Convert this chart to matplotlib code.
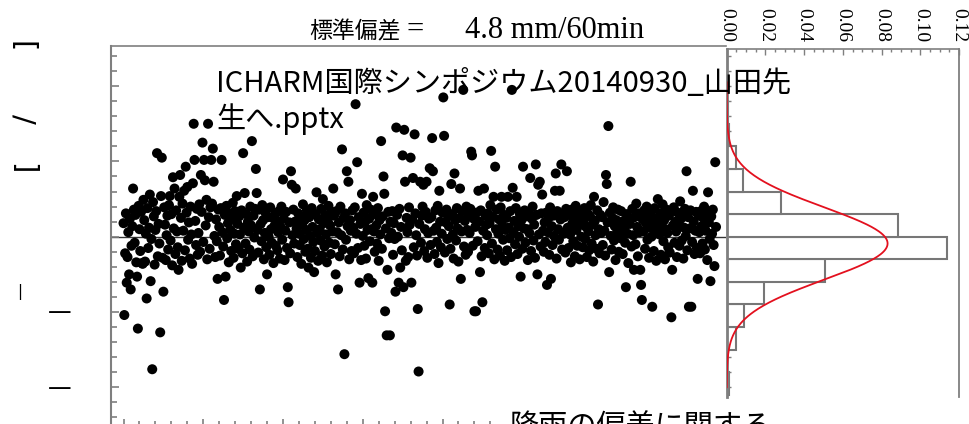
import numpy as np
import matplotlib
matplotlib.use("Agg")
import matplotlib.pyplot as plt
from matplotlib.ticker import MultipleLocator, FormatStrFormatter

# hourly rainfall deviation [mm/60min], one row of 24 values per day (31 days)
deviation_by_day = [
    [1.8, -10.4, -2.2, 3.1, -6.1, -2.7, 0.6, -5.0, 2.4, -7.0, -1.2, 1.4, 6.4, 3.6, -0.8, 2.9, -3.4, -5.3, -12.2, 4.1, 1.0, -1.9, 3.3, -3.5],
    [-3.6, 4.9, 2.2, -3.3, 0.4, -8.2, 3.8, -1.5, 1.2, 5.6, -5.9, -0.3, -17.6, 4.6, 2.7, -3.7, 0.9, 3.4, 11.1, -2.6, 1.7, -0.9, -12.7, 5.4],
    [10.5, -2.8, -7.3, 3.9, 1.6, -3.1, 0.2, 2.8, -1.7, 4.2, 5.4, -0.5, 3.0, -3.8, 7.9, 1.1, 6.4, -2.3, 3.5, 0.7, -1.4, -4.4, 5.3, 8.2],
    [2.5, -3.2, 4.4, 0.8, 6.1, -1.8, 9.3, 3.2, 6.6, -0.4, 1.9, -2.9, 4.0, 0.3, -3.6, 7.1, 15.0, 10.2, 2.1, -1.1, 3.7, -2.4, 0.5, 4.3],
    [-2.0, 8.2, 3.3, 12.5, -0.7, 10.2, 7.5, 1.5, 4.9, -3.0, 15.0, 2.6, -1.6, 3.9, 10.2, 4.4, 11.7, 7.3, 0.1, -2.7, 2.3, -0.6, -5.6, 3.6],
    [1.3, -2.5, 3.8, 10.2, 0.6, -1.3, -8.4, 2.9, -5.3, 4.1, -0.2, 1.8, -3.4, 3.1, 0.9, -1.9, 2.4, 4.5, -2.8, 0.4, 3.4, -1.0, 5.4, 1.7],
    [-1.6, 2.7, 0.3, -4.1, 3.5, -2.2, 11.1, 1.2, 5.8, -0.9, 3.0, -3.3, 2.0, 0.7, -1.7, 4.0, 1.5, 12.7, -2.6, 2.8, -0.1, 3.7, 9.0, 5.8],
    [0.9, -2.1, 3.6, -7.0, 1.7, -0.6, 4.2, 2.2, -3.0, 0.5, 3.2, -1.4, -5.0, 2.6, 0.0, -2.4, 3.9, 1.0, -0.8, 2.5, -3.5, 1.4, 3.0, -1.2],
    [2.1, -1.8, 0.6, 3.4, -2.9, 1.3, 4.0, -0.4, 7.6, 2.4, -3.1, 0.8, 3.3, -1.5, -6.7, -8.7, 1.9, -2.2, 8.7, 6.9, 0.2, 3.6, -0.9, 2.0],
    [6.4, 1.1, -2.7, 3.1, 0.4, -1.1, 2.7, -3.6, 1.6, 4.3, -0.3, 2.2, -2.0, 0.9, 3.5, -1.6, -4.1, 2.6, 0.1, -2.8, 3.8, 1.3, -0.7, -4.7],
    [-1.9, 3.0, 5.9, 0.5, -3.2, 2.3, 1.0, -0.5, 3.7, -2.5, 5.0, 1.8, -1.3, 2.9, 0.3, -3.4, 2.1, 4.1, -0.8, 1.5, -2.3, 3.3, 0.7, 6.4],
    [2.8, -1.0, -5.0, 3.4, 0.6, -7.0, 1.9, -2.6, 4.0, 0.2, 11.6, -1.7, 2.5, -15.6, 3.1, -0.4, 8.7, 1.4, 7.3, -3.0, 2.2, 0.8, -1.9, 3.5],
    [1.2, -2.2, 3.9, 17.6, 0.4, 9.9, -1.5, 2.6, -6.1, 1.7, -3.1, 5.7, 0.1, 3.2, -1.2, 2.0, -2.9, 4.2, 0.9, -5.5, 2.4, -0.6, 3.6, 1.0],
    [-6.1, 5.3, 0.7, -2.0, 3.0, 1.5, -0.9, 3.8, -3.2, 2.2, 0.3, 12.7, -1.6, 2.7, 8.0, 5.7, -9.9, 1.1, -13.1, -4.4, 3.3, -0.2, -13.1, 2.0],
    [0.5, 3.4, -2.4, 1.8, -0.3, -7.3, 14.5, 2.9, 0.0, -6.1, 3.7, -4.1, 1.3, -1.8, 10.8, -6.7, 14.2, 7.3, -3.2, 2.5, 0.6, -2.7, 3.9, 1.6],
    [10.5, -6.1, 2.3, 7.8, -1.4, 13.6, 3.1, 0.2, -2.5, -9.6, -17.9, 1.7, 7.3, -0.8, 2.8, 4.0, 6.9, -1.9, 1.0, 3.3, 7.3, -2.8, 0.5, 2.4],
    [9.1, -1.1, 2.6, 13.1, 8.7, 0.8, -2.3, 3.5, 1.2, -0.7, 4.1, -3.5, 6.1, 2.0, -1.4, 0.4, 3.2, 18.5, 13.4, -2.1, 1.9, 3.6, -0.3, 2.7],
    [1.4, -9.0, -1.6, 7.0, 3.0, 0.3, -2.9, 8.4, 2.2, -0.5, 3.8, 1.1, -3.3, 2.5, 6.4, -5.6, 0.7, 3.4, 19.5, -1.3, 2.1, -2.4, 4.0, 0.9],
    [-2.0, 2.9, 0.5, 3.7, 11.3, 10.8, -1.2, 2.4, -9.9, 1.3, -9.9, 3.2, -0.6, 6.1, 2.0, -4.7, 3.5, -2.6, -8.7, 0.8, 6.4, -1.5, 2.8, 1.6],
    [0.2, 3.1, -2.2, 1.8, 4.2, 11.4, -0.9, 2.6, 5.3, -3.0, 9.3, 1.0, 3.6, -1.7, 0.4, 2.3, -2.5, 3.9, 5.3, 1.5, -0.4, 2.9, -3.2, 0.9],
    [2.5, -1.8, 5.3, 1.2, -0.2, 3.4, -2.7, 19.5, 6.5, 0.6, 2.1, -1.0, 3.8, 5.3, -2.3, 1.4, 0.0, 3.0, -5.3, 2.2, -1.6, 9.3, 1.1, 3.5],
    [-0.8, 2.7, 1.0, -3.1, 3.3, 0.5, 7.8, -1.9, 2.4, 4.0, -0.5, 1.6, -2.8, 9.6, 2.9, -5.0, 6.9, 0.3, 7.3, -1.3, 3.1, 5.6, 0.8, -2.0],
    [1.9, -0.7, 3.2, -6.4, 0.6, 2.5, -2.4, 3.9, -5.6, 1.4, -1.1, 2.8, 0.1, 6.1, 8.4, -2.9, 3.4, 1.0, -0.4, 6.1, 2.3, 9.6, -1.7, 3.0],
    [0.4, 2.6, -2.1, 3.7, 8.7, 1.2, -1.5, 2.9, 0.3, -3.4, 3.6, 1.8, -0.6, 2.2, -2.6, 4.1, 0.9, -1.2, 3.0, 1.5, -3.0, 2.4, 0.0, 3.3],
    [-1.4, 2.0, 3.8, -0.3, 1.3, -2.7, 3.1, 0.7, -1.8, 2.7, 4.2, -0.9, 1.6, -3.3, 5.3, 2.1, 0.2, -1.6, 3.5, -9.0, 1.0, -2.2, 2.9, 0.5],
    [2.6, -1.1, 4.6, 0.8, -2.5, 8.2, 7.0, 1.9, 14.7, -4.7, 3.2, 0.1, -1.7, 2.5, 3.9, -0.5, 1.4, -3.1, 2.2, 0.6, 3.6, -2.0, 1.2, -0.2],
    [3.4, 0.9, -2.3, 2.1, 1.1, -0.8, -6.7, 3.0, 0.4, -3.5, 2.4, 1.7, 7.3, -1.3, 3.7, 0.2, -4.4, 2.6, -1.0, 4.4, 1.3, -2.6, 3.1, 0.6],
    [-4.4, -6.4, -8.4, 2.3, 0.7, 3.5, -1.6, 1.8, 4.0, -0.4, 2.7, -2.8, 1.2, 3.3, 0.0, -9.3, 2.1, -1.9, 3.8, 0.9, -3.2, 2.5, 5.0, 1.4],
    [0.3, 3.1, -2.4, 1.9, 4.3, -0.6, 2.2, -3.0, 1.0, 3.6, 0.5, -1.4, 2.8, -2.1, 3.4, -10.7, -4.4, 1.5, 3.9, -0.8, 2.0, 0.7, -2.7, 3.2],
    [1.7, -1.2, 4.7, 2.4, -0.5, 3.0, -2.9, 1.2, 3.7, 0.1, 8.7, -1.8, 2.6, -9.3, 1.1, 3.5, -9.3, -0.7, 6.1, 2.0, -2.3, 0.8, 3.3, -1.5],
    [-5.6, 2.8, 0.6, -2.2, 3.4, 1.4, -0.9, 2.5, 4.0, -1.7, 0.8, 3.1, -3.1, 5.9, 1.9, -0.3, -5.9, 2.7, 0.4, 3.6, -1.1, -3.9, 9.9, 1.3],
]

# density histogram of the deviations, 3 mm bins (lower bin edge -> density)
bin_bottoms = [-21, -18, -15, -12, -9, -6, -3, 0, 3, 6, 9, 12, 15]
bin_density = [0.001, 0.0, 0.0048, 0.0091, 0.0193, 0.0507, 0.114, 0.0885, 0.0279, 0.0085, 0.0048, 0.001, 0.0007]
bin_width = 3

mean_dev = -0.9
std_dev = 4.8

density_ticks = [0.00, 0.02, 0.04, 0.06, 0.08, 0.10, 0.12]

deviation = np.concatenate([np.array(d) for d in deviation_by_day])
hours = np.arange(len(deviation))

W, H = 969, 424
fig = plt.figure(figsize=(W / 100, H / 100), dpi=100)


def fx(px):
    return px / W


def fy(py):
    return 1 - py / H


GRAY = "#7f7f7f"
CJK = ["Noto Sans CJK JP", "DejaVu Sans"]
SERIF = ["Liberation Serif", "DejaVu Serif"]

# --- time series of deviations ---
ax = fig.add_axes([fx(111), fy(427), (726 - 111) / W, (427 - 46) / H])
ax.axhline(0, color="#333333", lw=1.0, zorder=1)
ax.scatter(hours, deviation, s=52, color="black", edgecolors="none", zorder=2)
ax.set_xlim(-15.7, 755.5)
ax.set_ylim(-25.27, 25.33)
ax.xaxis.set_major_locator(MultipleLocator(100))
ax.xaxis.set_minor_locator(MultipleLocator(20))
ax.yaxis.set_major_locator(MultipleLocator(10))
ax.yaxis.set_minor_locator(MultipleLocator(2))
ax.tick_params(which="both", direction="in", colors=GRAY, labelleft=False,
               labelbottom=False, width=1.2)
ax.tick_params(which="major", length=6)
ax.tick_params(which="minor", length=4)
ax.spines["right"].set_visible(False)
for side in ("left", "top", "bottom"):
    ax.spines[side].set_color(GRAY)
ax.spines["left"].set_linewidth(1.5)
ax.spines["top"].set_linewidth(1.2)

# --- histogram with fitted normal curve ---
hx = fig.add_axes([fx(726.7), fy(397), (959 - 726.7) / W, (397 - 49) / H])
hx.barh(bin_bottoms, bin_density, height=bin_width, align="edge",
        color="white", edgecolor="#777777", linewidth=1.5, zorder=2)
yy = np.linspace(-20, 20.5, 400)
pdf = np.exp(-0.5 * ((yy - mean_dev) / std_dev) ** 2) / (std_dev * np.sqrt(2 * np.pi))
hx.plot(pdf, yy, color="#e3101e", lw=1.3, zorder=3)
hx.set_xlim(0, 0.12)
hx.set_ylim(-21.29, 24.93)
hx.set_xticks(density_ticks)
hx.xaxis.set_major_formatter(FormatStrFormatter("%.2f"))
hx.xaxis.set_minor_locator(MultipleLocator(0.005))
hx.yaxis.set_major_locator(MultipleLocator(10))
hx.yaxis.set_minor_locator(MultipleLocator(2))
hx.xaxis.tick_top()
hx.tick_params(axis="x", which="both", direction="in", colors=GRAY,
               labelcolor="black", labelsize=14, pad=5, width=1.0)
hx.tick_params(axis="x", which="major", length=4)
hx.tick_params(axis="x", which="minor", length=2.5)
hx.tick_params(axis="y", which="both", direction="in", colors=GRAY,
               labelleft=False, length=3, width=1.0)
for lbl in hx.get_xticklabels():
    lbl.set_rotation(-90)
    lbl.set_fontfamily(SERIF)
hx.spines["bottom"].set_visible(False)
for side in ("left", "top", "right"):
    hx.spines[side].set_color(GRAY)
hx.spines["left"].set_linewidth(2.0)
hx.spines["right"].set_linewidth(1.3)
hx.spines["top"].set_linewidth(1.2)

# --- title: standard deviation ---
fig.text(fx(309), fy(38), "標準偏差", family=CJK, fontsize=16.5,
         ha="left", va="baseline")
fig.text(fx(407), fy(38), "=", family=SERIF, fontsize=22,
         ha="left", va="baseline")
fig.text(fx(465), fy(38), "4.8 mm/60min", family=SERIF, fontsize=22,
         ha="left", va="baseline")

# --- file name overlay ---
fig.text(fx(216), fy(92), "ICHARM国際シンポジウム20140930_山田先",
         family=CJK, fontsize=21, ha="left", va="baseline", zorder=5)
fig.text(fx(216), fy(128), "生へ.pptx", family=CJK, fontsize=21,
         ha="left", va="baseline", zorder=5)
fig.text(fx(510), fy(435), "降雨の偏差に関する", family=CJK, fontsize=21,
         ha="left", va="baseline", zorder=5,
         bbox=dict(facecolor="white", edgecolor="none", pad=6))

# --- remnants of the y-axis label and tick labels ---
for py, s in ((47, "["), (119, "/"), (169, "]")):
    fig.text(fx(22), fy(py), s, family="DejaVu Sans", fontsize=21,
             rotation=-90, ha="center", va="center")
fig.text(fx(20), fy(292), "|", family="DejaVu Sans", fontsize=11,
         ha="center", va="center")
for py in (312, 388):
    fig.text(fx(60), fy(py), "—", family="DejaVu Sans", fontsize=17,
             ha="center", va="center")

fig.savefig("out.png", dpi=100)
